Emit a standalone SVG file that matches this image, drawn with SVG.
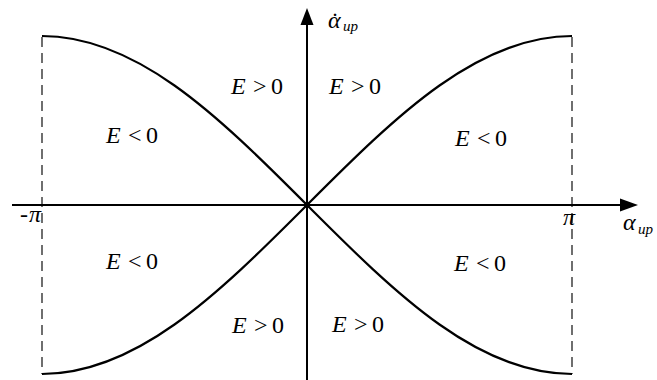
<svg xmlns="http://www.w3.org/2000/svg" xmlns:xlink="http://www.w3.org/1999/xlink" width="657" height="380" viewBox="0 0 657 380">
<style>
.ax{stroke:#000;stroke-width:2;fill:none}
.cv{stroke:#000;stroke-width:2.2;fill:none;stroke-linejoin:round}
.ds{stroke:#222;stroke-width:1.3;fill:none;stroke-dasharray:10 6}
.t{font-family:"Liberation Serif","Times New Roman",serif;font-size:24px;fill:#000}
.i{font-style:italic}
.s{font-size:15px;font-style:italic}
</style>
<defs>
<path id="q" d="M0,0 C44.17,-44.25 88.33,-88.21 132.5,-119.5 C176.67,-150.79 220.83,-169 265,-169"/>
</defs>
<rect width="657" height="380" fill="#fff"/>
<g id="guides">
<line class="ds" x1="42" y1="37" x2="42" y2="374"/>
<line class="ds" x1="572" y1="37" x2="572" y2="374"/>
</g>
<g id="axes">
<line class="ax" x1="12" y1="205" x2="622" y2="205"/>
<polygon points="620,198.5 638,205 620,211.5" fill="#000"/>
<line class="ax" x1="307" y1="380" x2="307" y2="23"/>
<polygon points="300.5,25 307,8 313.5,25" fill="#000"/>
<circle cx="307" cy="205" r="3" fill="#000"/>
</g>
<g id="connectors">
<use xlink:href="#q" class="cv" transform="translate(307,205)"/>
<use xlink:href="#q" class="cv" transform="translate(307,205) scale(-1,1)"/>
<use xlink:href="#q" class="cv" transform="translate(307,205) scale(1,-1)"/>
<use xlink:href="#q" class="cv" transform="translate(307,205) scale(-1,-1)"/>
</g>
<g id="labels">
<text class="t" y="94"><tspan class="i" x="231">E</tspan><tspan x="253">&gt;</tspan><tspan x="271">0</tspan></text>
<text class="t" y="94"><tspan class="i" x="329">E</tspan><tspan x="351">&gt;</tspan><tspan x="369">0</tspan></text>
<text class="t" y="143"><tspan class="i" x="106">E</tspan><tspan x="128">&lt;</tspan><tspan x="146">0</tspan></text>
<text class="t" y="146"><tspan class="i" x="455">E</tspan><tspan x="477">&lt;</tspan><tspan x="495">0</tspan></text>
<text class="t" y="269"><tspan class="i" x="106">E</tspan><tspan x="128">&lt;</tspan><tspan x="146">0</tspan></text>
<text class="t" y="271"><tspan class="i" x="454">E</tspan><tspan x="476">&lt;</tspan><tspan x="494">0</tspan></text>
<text class="t" y="333"><tspan class="i" x="232">E</tspan><tspan x="254">&gt;</tspan><tspan x="272">0</tspan></text>
<text class="t" y="332"><tspan class="i" x="332">E</tspan><tspan x="354">&gt;</tspan><tspan x="372">0</tspan></text>
<text class="t" y="222"><tspan x="20">-</tspan><tspan class="i" x="29">π</tspan></text>
<text class="t i" x="563" y="225">π</text>
<text class="t"><tspan class="i" x="623" y="230">α</tspan><tspan class="s" x="638" y="234">up</tspan></text>
<text class="t"><tspan class="i" x="328" y="28">α</tspan><tspan x="331" y="29">˙</tspan><tspan class="s" x="343" y="31">up</tspan></text>
</g>
</svg>
